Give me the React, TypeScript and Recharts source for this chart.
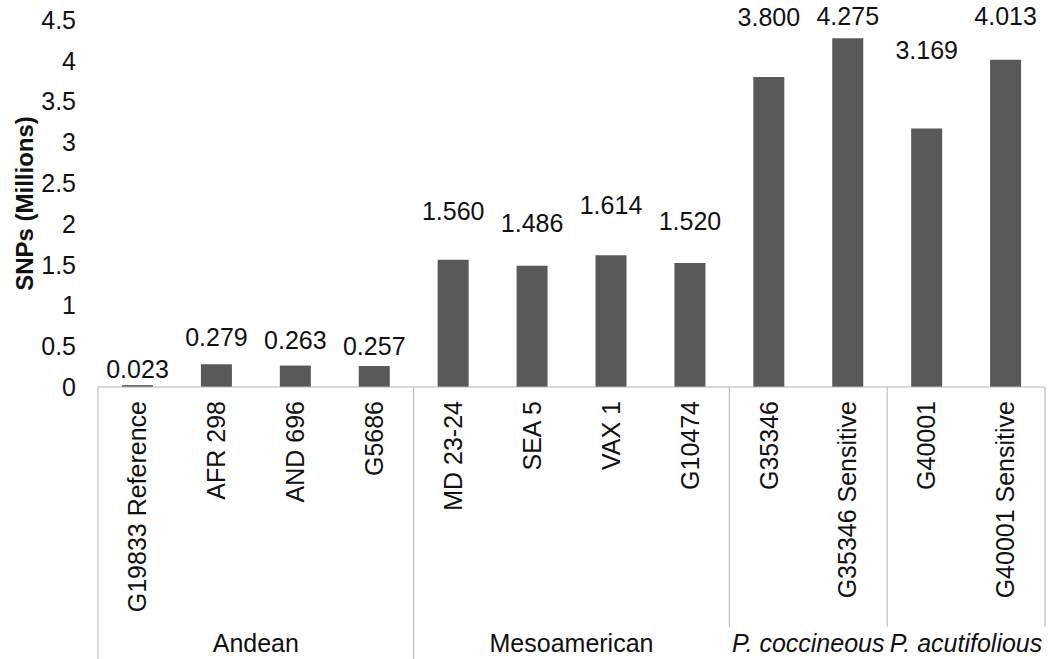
import { BarChart, Bar, XAxis, YAxis, LabelList } from 'recharts'

const CATEGORIES = [
  'G19833 Reference',
  'AFR 298',
  'AND 696',
  'G5686',
  'MD 23-24',
  'SEA 5',
  'VAX 1',
  'G10474',
  'G35346',
  'G35346 Sensitive',
  'G40001',
  'G40001 Sensitive',
]
const SNPS = [0.023, 0.279, 0.263, 0.257, 1.56, 1.486, 1.614, 1.52, 3.8, 4.275, 3.169, 4.013]
const GROUPS = ['Andean', 'Mesoamerican', 'P. coccineous', 'P. acutifolious']
const GROUP_SIZES = [4, 4, 2, 2]
const GROUP_ITALIC = [false, false, true, true]
const Y_TICKS = [0, 0.5, 1, 1.5, 2, 2.5, 3, 3.5, 4, 4.5]

// how far each value label floats above its bar (px)
const LABEL_LIFT = [16, 27, 25, 20, 49, 43, 50, 42, 60, 22, 78, 43]

const W = 1053
const H = 659
const MARGIN = { top: 20, right: 8, left: 0, bottom: 0 }
const Y_AXIS_W = 98
const FONT = '"Liberation Sans", Arial, sans-serif'
const FS = 25
const TEXT = '#111'
const LINE = '#b3b3b3'
const BAND = (W - Y_AXIS_W - MARGIN.left - MARGIN.right) / CATEGORIES.length

const data = CATEGORIES.map((name, i) => ({ name, snps: SNPS[i] }))

// group start indices
const groupStarts: number[] = []
GROUP_SIZES.reduce((acc, n) => {
  groupStarts.push(acc)
  return acc + n
}, 0)

// a group label wider than its group hides the dividers next to it
const overflows = GROUPS.map((g, i) => g.length * 0.55 * FS > GROUP_SIZES[i] * BAND)

function CategoryTick(props: any) {
  const { x, y, payload } = props
  const index: number = payload.index
  const items: any[] = []

  items.push(
    <text
      key="t"
      x={x}
      y={y + 14}
      transform={`rotate(-90, ${x}, ${y + 14})`}
      textAnchor="end"
      dy="0.35em"
      fontSize={FS}
      fontFamily={FONT}
      fill={TEXT}
    >
      {payload.value}
    </text>
  )

  const g = groupStarts.indexOf(index)
  if (g >= 0) {
    const left = x - BAND / 2
    const short = overflows[g] || (g > 0 && overflows[g - 1])
    items.push(<line key="l" x1={left} x2={left} y1={y} y2={short ? 627 : H} stroke={LINE} />)
    items.push(
      <text
        key="g"
        x={left + (GROUP_SIZES[g] * BAND) / 2}
        y={652}
        textAnchor="middle"
        fontSize={FS}
        fontStyle={GROUP_ITALIC[g] ? 'italic' : 'normal'}
        fontFamily={FONT}
        fill={TEXT}
      >
        {GROUPS[g]}
      </text>
    )
  }
  if (index === CATEGORIES.length - 1) {
    const right = x + BAND / 2
    const short = overflows[GROUPS.length - 1]
    items.push(<line key="r" x1={right} x2={right} y1={y} y2={short ? 627 : H} stroke={LINE} />)
  }
  return <g>{items}</g>
}

function ValueLabel(props: any) {
  const { x, y, width, value } = props
  const i = props.index ?? SNPS.indexOf(value)
  return (
    <text
      x={x + width / 2}
      y={y - LABEL_LIFT[i]}
      dy="0.35em"
      textAnchor="middle"
      fontSize={FS}
      fontFamily={FONT}
      fill={TEXT}
    >
      {Number(value).toFixed(3)}
    </text>
  )
}

function AxisTitle(props: any) {
  const vb = props.viewBox ?? { y: 20, height: 367 }
  const cy = vb.y + vb.height / 2
  return (
    <text
      x={25}
      y={cy}
      transform={`rotate(-90, 25, ${cy})`}
      textAnchor="middle"
      dy="0.35em"
      fontSize={24}
      fontWeight="bold"
      fontFamily={FONT}
      fill={TEXT}
    >
      SNPs (Millions)
    </text>
  )
}

export default function App() {
  return (
    <div style={{ position: 'absolute', left: 0, top: 0, width: W, height: H, background: '#fff' }}>
      <BarChart width={W} height={H} data={data} margin={MARGIN}>
        <XAxis
          dataKey="name"
          interval={0}
          height={H - 387}
          tickLine={false}
          tickSize={0}
          tickMargin={0}
          axisLine={{ stroke: LINE }}
          tick={<CategoryTick />}
        />
        <YAxis
          width={Y_AXIS_W}
          domain={[0, 4.5]}
          ticks={Y_TICKS}
          axisLine={false}
          tickLine={false}
          tickSize={0}
          tickMargin={22}
          tick={{ fontSize: FS, fontFamily: FONT, fill: TEXT }}
          label={{ content: (p: any) => <AxisTitle {...p} /> }}
        />
        <Bar dataKey="snps" fill="#595959" barSize={31} isAnimationActive={false}>
          <LabelList dataKey="snps" content={<ValueLabel />} />
        </Bar>
      </BarChart>
    </div>
  )
}
